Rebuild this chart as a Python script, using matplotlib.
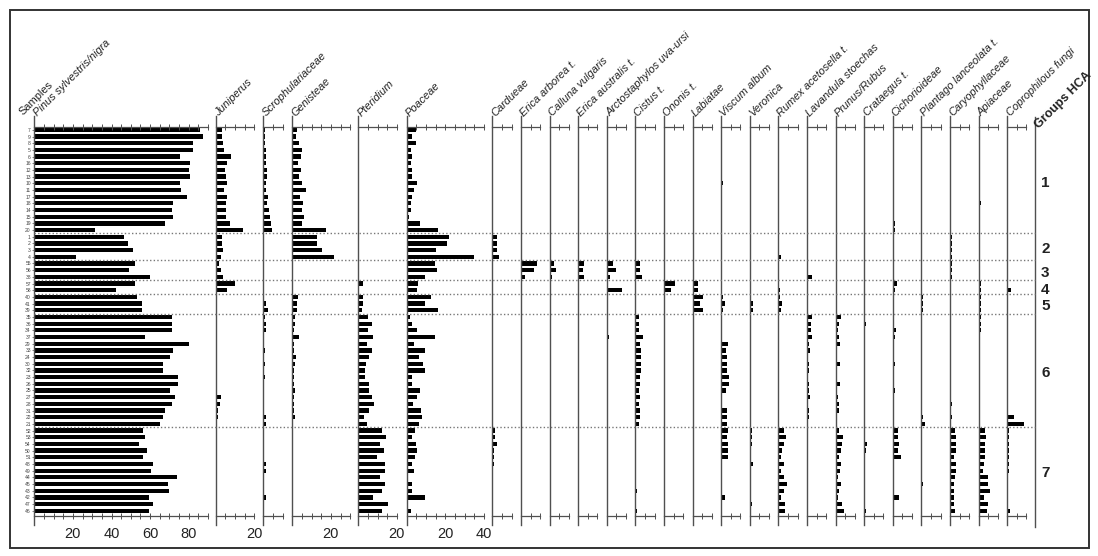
import numpy as np
import matplotlib.pyplot as plt
from matplotlib.lines import Line2D
from matplotlib.patches import Rectangle
from matplotlib.transforms import blended_transform_factory

plt.rcParams['font.family'] = ['Liberation Sans', 'DejaVu Sans']

# samples from top to bottom, ordered by HCA group
samples = [7, 9, 8, 5, 6, 16, 12, 13, 10, 11, 17, 18, 14, 15, 19, 20,
           1, 2, 3, 4,
           55, 56, 38,
           57, 58,
           40, 41, 39,
           35, 36, 34, 37, 29, 33, 24, 30, 32, 23, 26, 25, 27, 28, 31, 22, 21,
           52, 53, 54, 50, 51, 48, 49, 44, 45, 43, 42, 47, 46]
group_labels = ['1', '2', '3', '4', '5', '6', '7']
group_sizes = [16, 4, 3, 2, 3, 17, 13]

# pollen percentages, one value per sample in the order above
pinus = [85.8, 87.6, 82.4, 82.4, 75.5, 80.7, 80.3, 80.7, 75.5, 76.0, 78.9, 72.0, 71.5, 72.0, 67.7, 31.6,
         46.6, 48.4, 50.9, 21.6,
         52.2, 48.9, 59.9,
         52.2, 42.3,
         53.0, 55.6, 55.6,
         71.2, 71.2, 71.2, 57.5, 80.3, 72.0, 70.3, 66.5, 66.5, 74.6, 74.6, 70.3, 72.9, 71.2, 67.7, 66.5, 65.1,
         56.1, 57.3, 54.4, 58.2, 56.5, 61.7, 60.4, 74.1, 69.1, 69.9, 59.6, 61.7, 59.2]
juniperus = [3.5, 3.5, 3.6, 4.4, 8.0, 5.7, 4.8, 5.3, 5.7, 4.4, 5.7, 5.3, 5.3, 5.3, 7.5, 14.0,
             3.5, 3.1, 4.0, 2.9,
             1.6, 2.6, 4.0,
             10.0, 5.7,
             0, 0, 0.3,
             0.4, 0, 0.3, 0, 0.3, 0.6, 0.6, 0.6, 0.8, 0.4, 0.4, 0.6, 2.8, 2.2, 1.4, 1.0, 0.4,
             0, 0, 0, 0, 0, 0, 0, 0, 0, 0, 0, 0, 0]
scrophulariaceae = [0.9, 1.1, 1.1, 1.2, 1.2, 1.4, 1.7, 1.7, 1.2, 1.2, 2.6, 1.7, 2.9, 3.5, 4.0, 4.7,
                    0.5, 0.5, 0.5, 0.5,
                    0.5, 0.5, 0.5,
                    0.5, 0.5,
                    0.5, 1.2, 2.2,
                    0.8, 1.6, 1.4, 0, 0, 0.8, 0, 0.8, 0.4, 0.8, 0.6, 0, 0, 0, 0.4, 1.2, 1.6,
                    0, 0, 0, 0.3, 0.4, 1.3, 1.3, 0.6, 0, 0.3, 1.4, 0, 0]
genisteae = [2.2, 1.9, 3.5, 4.8, 4.4, 3.1, 4.4, 3.5, 5.1, 6.9, 4.0, 5.7, 5.1, 6.0, 5.1, 17.4,
             12.6, 12.6, 15.5, 21.6,
             0, 0, 0.4,
             0, 0,
             2.8, 2.6, 2.2,
             1.4, 1.2, 0.9, 3.4, 0.9, 0.7, 1.7, 1.4, 0.9, 1.1, 0.7, 1.4, 0.7, 0.9, 1.1, 1.4, 0.5,
             0, 0.4, 0, 0, 0, 0, 0, 0.4, 0, 0, 0, 0, 0.3]
pteridium = [0, 0, 0, 0, 0, 0, 0, 0, 0, 0, 0, 0, 0, 0, 0, 0,
             0.3, 0, 0, 0.5,
             0, 0, 0,
             2.2, 0,
             2.6, 2.6, 2.0,
             5.1, 6.9, 5.1, 7.5, 4.7, 7.1, 5.7, 4.0, 3.3, 3.3, 5.3, 5.7, 7.3, 8.1, 5.5, 2.9, 4.7,
             12.1, 14.4, 11.2, 13.3, 9.5, 13.9, 13.9, 11.2, 13.9, 12.4, 7.5, 15.5, 12.1]
poaceae = [4.8, 2.9, 4.8, 2.2, 2.8, 2.2, 2.9, 2.6, 5.1, 3.8, 2.9, 2.2, 2.0, 1.2, 6.9, 16.4,
           21.9, 20.8, 15.2, 34.9,
           14.7, 15.5, 9.5,
           6.0, 5.5,
           12.4, 9.5, 16.4,
           1.7, 2.9, 5.1, 14.7, 3.8, 9.5, 6.6, 8.3, 9.5, 2.6, 2.9, 6.9, 5.1, 3.5, 7.3, 8.1, 6.4,
           4.4, 2.9, 4.7, 5.5, 4.4, 2.9, 4.0, 0.9, 2.9, 2.6, 9.5, 0.4, 2.0]
cardueae = [0, 0, 0, 0, 0, 0, 0, 0.3, 0, 0, 0, 0.3, 0, 0, 0.3, 0,
            2.2, 2.6, 2.6, 3.5,
            0.3, 0, 0,
            0.3, 0,
            0.3, 0.3, 0.3,
            0.3, 0.3, 0, 0.3, 0.3, 0, 0.3, 0.3, 0, 0.3, 0, 0.3, 0.3, 0, 0, 0, 0,
            1.4, 1.4, 2.2, 1.1, 0.9, 0.7, 0.5, 0, 0, 0, 0, 0, 0]
erica_arborea = [0, 0.4, 0, 0, 0, 0, 0, 0.4, 0, 0, 0, 0.4, 0, 0.4, 0, 0,
                 0, 0, 0, 0.4,
                 8.3, 6.6, 1.9,
                 0, 0,
                 0, 0, 0,
                 0.4, 0.4, 0.4, 0.4, 0.4, 0.4, 0.4, 0.4, 0.4, 0.4, 0.4, 0.4, 0.4, 0.4, 0.4, 0.4, 0.4,
                 0.4, 0.4, 0.4, 0.4, 0.4, 0.4, 0.4, 0.4, 0.4, 0.4, 0.4, 0.4, 0.3]
calluna = [0, 0, 0, 0, 0, 0, 0, 0, 0, 0, 0, 0, 0, 0, 0, 0,
           0, 0, 0, 0,
           2.2, 3.6, 1.4,
           0, 0,
           0, 0, 0,
           0, 0, 0, 0, 0, 0, 0, 0, 0, 0, 0, 0, 0, 0, 0, 0, 0,
           0, 0, 0, 0, 0, 0, 0, 0, 0, 0, 0, 0, 0]
erica_australis = [0, 0, 0, 0, 0, 0, 0, 0, 0, 0, 0, 0, 0, 0, 0, 0,
                   0, 0, 0, 0,
                   2.8, 2.4, 3.1,
                   0, 0,
                   0, 0, 0,
                   0, 0, 0, 0, 0, 0, 0, 0, 0, 0, 0, 0, 0, 0, 0, 0, 0,
                   0, 0, 0, 0, 0, 0, 0, 0, 0, 0, 0, 0, 0]
arctostaphylos = [0, 0, 0, 0, 0, 0, 0, 0, 0, 0, 0, 0, 0, 0, 0, 0,
                  0, 0, 0, 0,
                  3.1, 5.0, 1.9,
                  0, 8.0,
                  0, 0, 0,
                  0, 0, 0, 1.4, 0, 0, 0, 0, 0, 0, 0, 0, 0, 0, 0, 0, 0,
                  0, 0, 0, 0, 0, 0, 0, 0, 0, 0, 0, 0, 0]
cistus = [0, 0, 0, 0, 0, 0, 0, 0, 0, 0, 0, 0, 0, 0, 0, 0,
          0, 0, 0, 0,
          2.4, 2.4, 3.3,
          0, 0,
          0, 0, 0,
          1.9, 1.9, 1.9, 4.2, 2.4, 2.8, 2.9, 3.1, 3.1, 2.4, 2.6, 2.0, 2.2, 2.0, 2.4, 2.2, 2.0,
          0.4, 0.4, 0, 0.4, 0, 0.4, 0.4, 0, 0.4, 1.1, 0.4, 0, 1.1]
ononis = [0, 0, 0, 0, 0, 0, 0, 0, 0, 0, 0, 0, 0, 0, 0, 0,
          0, 0, 0, 0,
          0, 0, 0,
          5.7, 3.6,
          0, 0, 0,
          0, 0, 0, 0, 0, 0, 0, 0, 0, 0, 0, 0, 0, 0, 0, 0, 0,
          0, 0, 0, 0, 0, 0, 0, 0, 0, 0, 0, 0, 0]
labiatae = [0, 0, 0, 0, 0, 0, 0, 0, 0, 0, 0, 0.4, 0, 0, 0, 0,
            0.4, 0.4, 0.4, 0.4,
            0.3, 0.3, 0,
            2.6, 2.6,
            5.5, 3.8, 5.5,
            0.3, 0.3, 0.3, 0, 0.3, 0, 0.3, 0, 0, 0.3, 0, 0.9, 0, 0.3, 0, 0.3, 0,
            0.3, 0, 0, 0.3, 0, 0.3, 0, 0, 0.9, 0, 0.3, 0, 0]
viscum = [0, 0, 0, 0, 0, 0, 0, 0, 0.9, 0, 0, 0, 0, 0, 0, 0,
          0, 0, 0, 0,
          0, 0, 0,
          0, 0,
          1.2, 2.0, 0.9,
          0, 0, 0, 0, 3.8, 2.6, 2.9, 2.9, 2.9, 4.2, 4.2, 2.6, 0, 0, 2.9, 2.9, 2.9,
          3.5, 2.9, 3.5, 3.5, 3.5, 0, 0, 0, 0, 0, 2.0, 0, 0]
veronica = [0, 0, 0, 0, 0, 0, 0, 0, 0, 0, 0, 0, 0, 0, 0, 0,
            0, 0, 0, 0,
            0, 0, 0,
            0, 0,
            0.7, 1.7, 1.7,
            0, 0, 0, 0, 0, 0, 0, 0, 0, 0, 0, 0, 0, 0, 0, 0, 0,
            1.2, 1.2, 1.0, 0.7, 0.7, 1.7, 0.7, 0.5, 0.5, 0.5, 0.5, 1.2, 0.7]
rumex = [0, 0, 0, 0, 0, 0, 0, 0, 0, 0, 0, 0, 0, 0, 0, 0,
         0.5, 0.5, 0.5, 1.4,
         0, 0, 0,
         0.4, 0.9,
         1.1, 1.9, 1.4,
         0.3, 0.3, 0.3, 0.3, 0.5, 0.3, 0.3, 0.3, 0.3, 0.3, 0.3, 0.3, 0.3, 0.3, 0.3, 0.3, 0.3,
         2.8, 4.0, 2.8, 1.9, 1.4, 3.1, 1.4, 2.8, 4.4, 3.1, 1.4, 3.5, 3.5]
lavandula = [0, 0, 0, 0, 0, 0, 0, 0, 0, 0, 0, 0, 0, 0, 0, 0,
             0, 0, 0, 0,
             0, 0, 2.9,
             0, 0,
             0, 0, 0,
             2.9, 1.9, 1.9, 2.4, 1.2, 1.7, 0.7, 0.9, 1.2, 0.7, 0.9, 0.9, 1.6, 0.7, 1.2, 0.9, 0,
             0, 0, 0, 0, 0, 0, 0, 0, 0, 0, 0, 0, 0]
prunus_rubus = [0, 0, 0, 0, 0, 0, 0, 0, 0, 0, 0, 0, 0, 0, 0, 0,
                0, 0, 0, 0,
                0, 0, 0,
                0.5, 0.5,
                0.7, 0.7, 0.7,
                2.9, 2.0, 1.2, 2.0, 2.4, 0.9, 0.7, 2.4, 0.9, 0.7, 2.4, 0.9, 1.2, 2.0, 2.0, 0.9, 0.7,
                2.0, 3.8, 3.3, 2.9, 2.0, 2.9, 2.4, 1.2, 2.9, 2.0, 1.2, 3.3, 4.4]
crataegus = [0, 0, 0, 0, 0, 0, 0, 0, 0, 0, 0, 0, 0.5, 0, 0, 0,
             0, 0, 0, 0,
             0, 0, 0,
             0, 0,
             0.5, 0.5, 0.5,
             0.7, 1.2, 0.7, 0.3, 0, 0.3, 0, 0.3, 0, 0.3, 0, 0.3, 0, 0, 0.3, 0, 0,
             0.7, 0.5, 1.4, 0.9, 0.7, 0.7, 0.7, 0.5, 0.7, 0.5, 0.5, 0.5, 1.1]
cichorioideae = [0, 0, 0, 0.5, 0, 0, 0, 0.4, 0.4, 0, 0, 0.9, 0, 0.9, 1.2, 1.2,
                 0.5, 0.5, 0.5, 0.5,
                 0.4, 0.4, 0.4,
                 2.2, 1.2,
                 0.9, 0.9, 0.9,
                 0.9, 0.9, 1.7, 1.2, 0, 0, 0, 1.2, 0.5, 0, 0.5, 1.4, 0.9, 0.9, 0.9, 0, 0,
                 2.6, 2.6, 3.5, 2.9, 4.4, 0.9, 0.5, 0.4, 0.4, 0.4, 3.1, 0.4, 0.4]
plantago = [0, 0, 0, 0, 0, 0, 0, 0, 0, 0, 0, 0, 0, 0, 0, 0,
            0, 0, 0, 0,
            0, 0, 0,
            0, 0,
            0.7, 1.1, 1.1,
            0, 0, 0, 0.5, 0, 0, 0.5, 0, 0.5, 0, 0, 0, 0, 0, 0, 1.1, 1.7,
            0.4, 0, 0.4, 0, 0.4, 0, 0.4, 0, 1.1, 0, 0.4, 0, 0.4]
caryophyllaceae = [0, 0, 0, 0, 0, 0.5, 0, 0, 0, 0.5, 0.5, 0, 0, 0.5, 0, 0,
                   0.9, 0.9, 0.9, 0.9,
                   0.9, 0.9, 0.9,
                   0.5, 0.5,
                   0.5, 0.5, 0.5,
                   0, 0, 0, 0, 0, 0, 0, 0, 0.5, 0, 0.5, 0, 0, 1.1, 0.5, 1.1, 0,
                   2.8, 3.1, 3.1, 3.1, 1.9, 3.1, 3.1, 2.8, 1.9, 1.9, 1.9, 2.2, 2.8]
apiaceae = [0, 0.5, 0.5, 0, 0, 0, 0, 0, 0.5, 0, 0.9, 1.1, 0, 0, 0, 0,
            0, 0, 0, 0,
            0.9, 0, 0,
            1.1, 1.1,
            1.1, 1.1, 1.1,
            1.1, 1.1, 1.1, 0.5, 0, 0.5, 0, 0, 0.5, 0.5, 0, 0, 0, 0, 0, 0, 0,
            3.6, 4.0, 3.6, 3.6, 3.6, 3.1, 2.2, 4.8, 4.8, 5.7, 3.1, 4.8, 4.4]
coprophilous = [0, 0, 0, 0, 0, 0, 0, 0, 0, 0, 0, 0, 0, 0, 0, 0,
                0, 0, 0, 0,
                0, 0, 0,
                0, 2.0,
                0, 0, 0,
                0, 0, 0, 0, 0, 0, 0, 0, 0.5, 0, 0, 0, 0, 0, 0, 3.8, 8.6,
                1.2, 1.2, 1.2, 1.2, 0.9, 0.9, 0.9, 0, 0, 0, 0, 0, 1.4]

# (label, values, axis maximum in %)
panels = [
    ('Pinus sylvestris/nigra', pinus, 90),
    ('Juniperus', juniperus, 20),
    ('Scrophulariaceae', scrophulariaceae, 10),
    ('Genisteae', genisteae, 30),
    ('Pteridium', pteridium, 20),
    ('Poaceae', poaceae, 40),
    ('Cardueae', cardueae, 10),
    ('Erica arborea t.', erica_arborea, 10),
    ('Calluna vulgaris', calluna, 10),
    ('Erica australis t.', erica_australis, 10),
    ('Arctostaphylos uva-ursi', arctostaphylos, 10),
    ('Cistus t.', cistus, 10),
    ('Ononis t.', ononis, 10),
    ('Labiatae', labiatae, 10),
    ('Viscum album', viscum, 10),
    ('Veronica', veronica, 10),
    ('Rumex acetosella t.', rumex, 10),
    ('Lavandula stoechas', lavandula, 10),
    ('Prunus/Rubus', prunus_rubus, 10),
    ('Crataegus t.', crataegus, 10),
    ('Cichorioideae', cichorioideae, 10),
    ('Plantago lanceolata t.', plantago, 10),
    ('Caryophyllaceae', caryophyllaceae, 10),
    ('Apiaceae', apiaceae, 10),
    ('Coprophilous fungi', coprophilous, 10),
]
assert all(len(p[1]) == len(samples) for p in panels)

# page geometry in pixels
W, H = 1098, 556
TOP, BOT = 126.5, 515.7      # top and bottom axis lines
PX = 1.93                    # pixels per percent
LINE = '#505050'
big_left = [34.3, 215.7, 263.3, 292.3, 358.3, 406.7]
small_left0, small_step = 492.3, 28.6
hca_x = 1035

fig = plt.figure(figsize=(W / 100, H / 100), dpi=100)
rows = np.arange(len(samples))
n = len(samples)
ylim = (n - 0.26, -0.5)


def fx(px):
    return px / W


def fy(py):
    return 1 - py / H


axes = []
for i, (name, vals, xmax) in enumerate(panels):
    left = big_left[i] if i < len(big_left) else small_left0 + (i - len(big_left)) * small_step
    ax = fig.add_axes([fx(left), fy(BOT), xmax * PX / W, (BOT - TOP) / H])
    ax.barh(rows, vals, height=0.64, color='black', linewidth=0)
    ax.set_xlim(0, xmax)
    ax.set_ylim(*ylim)
    ax.patch.set_visible(False)
    for side in ('right', 'left'):
        ax.spines[side].set_visible(False)
    for side in ('top', 'bottom'):
        ax.spines[side].set_color(LINE)
        ax.spines[side].set_linewidth(0.9)
    # vertical baseline sticks out past both horizontal axes
    ax.add_line(Line2D([0, 0], [-0.025, 1.028], transform=ax.transAxes,
                       color=LINE, lw=1.0, clip_on=False))
    ticks = np.arange(0, xmax + 0.1, 5)
    ax.set_xticks(ticks)
    ax.set_xticklabels([str(int(t)) if t > 0 and t % 20 == 0 else '' for t in ticks])
    ax.tick_params(axis='x', top=True, bottom=True, labeltop=False, labelbottom=True,
                   direction='inout', length=4, width=0.7, color=LINE,
                   labelsize=10.5, pad=6, labelcolor='#222')
    if i == 0:
        ax.set_yticks(rows)
        ax.set_yticklabels([str(s) for s in samples], fontsize=3.6, color='#444')
        ax.tick_params(axis='y', length=1.5, width=0.5, pad=1, color=LINE)
    else:
        ax.set_yticks([])
    fig.text(fx(left + 4.5), fy(118.5), name, rotation=45, rotation_mode='anchor',
             ha='left', va='bottom', fontsize=7.9, style='italic', color='#222')
    axes.append(ax)

fig.text(fx(24), fy(117.5), 'Samples', rotation=45, rotation_mode='anchor',
         ha='left', va='bottom', fontsize=7.9, color='#222')

# HCA group column
ax0 = axes[0]
trans = blended_transform_factory(fig.transFigure, ax0.transData)
fig.add_artist(Line2D([fx(hca_x), fx(hca_x)], [fy(117), fy(527)], color=LINE, lw=1.0))
fig.text(fx(1041), fy(131), 'Groups HCA', rotation=45, rotation_mode='anchor',
         ha='left', va='bottom', fontsize=9, fontweight='bold', color='#222')

bounds = np.cumsum(group_sizes)
starts = np.concatenate([[0], bounds[:-1]])
for b in bounds[:-1]:
    fig.add_artist(Line2D([fx(34.3), fx(hca_x)], [b - 0.5, b - 0.5], transform=trans,
                          color='#777777', lw=1.0, linestyle=(0, (1, 1.6))))
for lab, s, b in zip(group_labels, starts, bounds):
    fig.text(fx(1041), (s + b - 1) / 2 + 0.4, lab, transform=trans, ha='left', va='center',
             fontsize=11, fontweight='bold', color='#222')

# outer frame
fig.add_artist(Rectangle((fx(9.5), fy(548)), (1089 - 9.5) / W, (548 - 9.5) / H,
                         transform=fig.transFigure, fill=False, ec='#333333', lw=1.4))

fig.savefig('out.png', dpi=100)
